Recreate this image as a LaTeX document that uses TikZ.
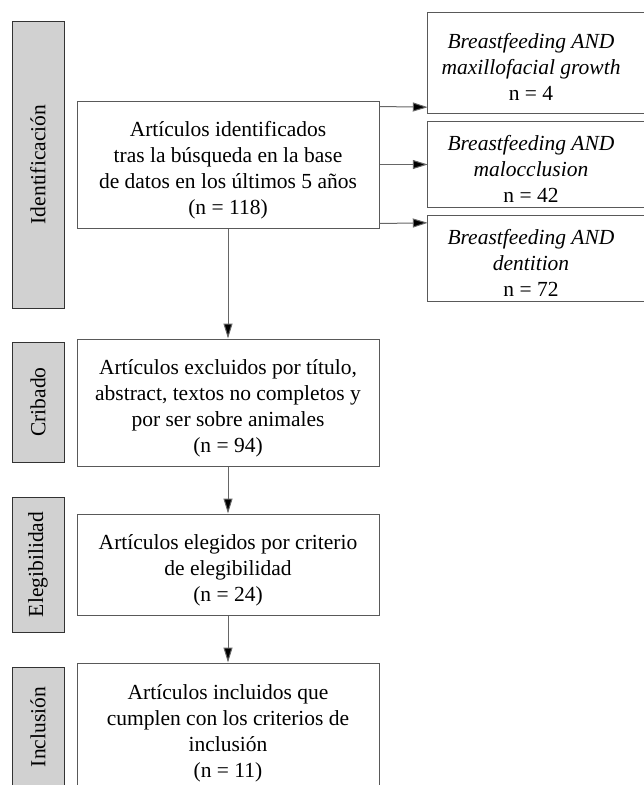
\documentclass[tikz,border=0pt]{standalone}
\usepackage{fontspec}
\setmainfont{Liberation Serif}
\usetikzlibrary{arrows.meta}
\newcommand{\altocaja}{\rule{0pt}{27pt}}
\newcommand{\altobusq}{\rule{0pt}{23pt}}

\begin{document}
\begin{tikzpicture}[x=1pt, y=-1pt,
	letra/.style={font=\fontsize{21.5}{26}\selectfont},
	fase/.style={letra, draw=black!80, fill=black!18, line width=1pt, rotate=90, minimum height=52pt, inner sep=0pt},
	caja/.style={letra, draw=black!65, line width=1pt, minimum width=302pt, align=center, inner sep=0pt},
	busq/.style={letra, minimum width=206pt, align=center, inner sep=0pt},
	flecha/.style={draw=black!60, line width=1pt, -{Triangle[length=15pt,width=9pt,fill=black]}}]
				\useasboundingbox (0,0) rectangle (644,785);
				\clip (0,0) rectangle (644,785);
				% fases
				\node[fase, minimum width=287pt] (fide) at (38,164.5) {Identificación};
				\node[fase, minimum width=120pt] (fcri) at (38,402) {Cribado};
				\node[fase, minimum width=135pt] (fele) at (38,564.5) {Elegibilidad};
				\node[fase, minimum width=120pt] (finc) at (38,727) {Inclusión};
				% cajas
				\node[caja, minimum height=127pt] (iden) at (228,164.5) {\altocaja Artículos identificados\\tras la búsqueda en la base\\de datos en los últimos 5 años\\(n = 118)};
				\node[caja, minimum height=127pt] (crib) at (228,402.5) {\altocaja Artículos excluidos por título,\\abstract, textos no completos y\\por ser sobre animales\\(n = 94)};
				\node[caja, minimum height=101pt] (eleg) at (228,564.5) {\altocaja Artículos elegidos por criterio\\de elegibilidad\\(n = 24)};
				\node[caja, minimum height=128pt] (incl) at (228,727) {\altocaja Artículos incluidos que\\cumplen con los criterios de\\inclusión\\(n = 11)};
				% busquedas
				\node[busq, minimum height=100pt] (bmax) at (531,63) {\altobusq\textit{Breastfeeding AND}\\\textit{maxillofacial growth}\\n = 4};
				\node[busq, minimum height=85pt] (bmal) at (531,164.5) {\altobusq\textit{Breastfeeding AND}\\\textit{malocclusion}\\n = 42};
				\node[busq, minimum height=85pt] (bden) at (531,258.5) {\altobusq\textit{Breastfeeding AND}\\\textit{dentition}\\n = 72};
				\foreach \b in {bmax,bmal,bden} {
					\draw[draw=black!65, line width=1pt] (\b.north west) rectangle ([xshift=20pt]\b.south east);
				}
				% flechas
				\draw[flecha] ([yshift=-6pt]iden.north east) -- ([yshift=6pt]bmax.south west);
				\draw[flecha] (iden.east) -- (bmal.west);
				\draw[flecha] ([yshift=5pt]iden.south east) -- ([yshift=-7pt]bden.north west);
				\draw[flecha] (iden.south) -- (crib.north);
				\draw[flecha] (crib.south) -- (eleg.north);
				\draw[flecha] (eleg.south) -- (incl.north);
			\end{tikzpicture}
\end{document}
